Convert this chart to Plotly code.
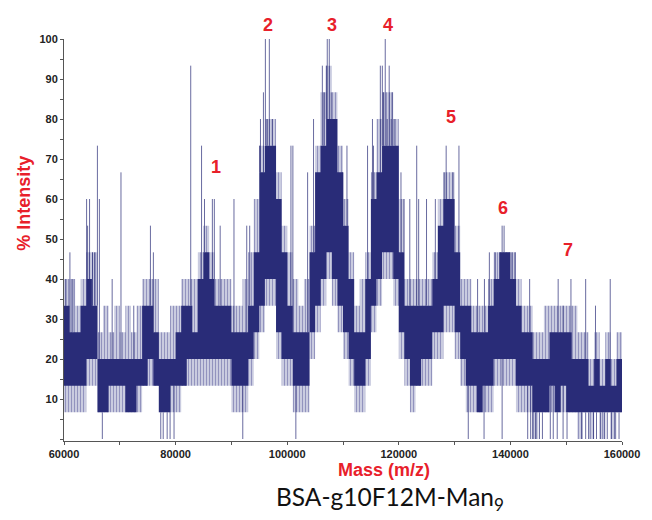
import numpy as np
import plotly.graph_objects as go

# ---------------- data ----------------
# Intensity is quantised: one count = 100/15 % ; values below are in counts.
STEP = 100.0 / 15.0
BIN = 1000  # Da per bin
bin_mass = list(range(60000, 160000, BIN))

# dense core of the trace (lower / upper level, counts)
core_lo = [2,2,2,2,3,3,1,1,2,2, 2,1,1,2,2,3,2,1,1,2,
           2,2,3,3,3,3,3,3,3,3, 2,2,2,3,4,5,6,6,4,3,
           3,2,2,2,4,5,6,7,6,5, 4,3,2,2,3,5,6,7,7,6,
           4,3,2,2,3,3,4,4,5,5, 4,3,2,2,1,2,2,3,3,3,
           3,2,2,2,1,1,1,2,1,2, 1,1,1,1,1,1,1,1,1,1]
core_hi = [5,4,4,5,6,5,3,3,3,3, 3,3,3,3,5,5,4,3,3,3,
           4,5,5,4,6,7,6,5,5,5, 4,4,4,5,7,10,11,11,9,7,
           5,4,4,4,7,10,11,12,12,10, 8,6,4,4,6,9,10,11,11,11,
           7,5,5,5,5,5,6,8,9,9, 7,5,5,4,4,4,5,6,7,7,
           6,5,4,4,3,3,3,4,4,4, 4,3,3,3,2,3,2,3,2,3]
# lighter fringe around the core (counts)
fringe_lo = [1,1,1,1,2,2,1,1,1,1, 1,1,1,1,2,2,2,1,1,1,
             1,2,2,2,2,2,2,2,2,2, 1,1,1,2,3,4,5,5,3,2,
             2,1,1,1,3,4,5,6,5,4, 3,2,1,1,2,4,5,6,6,5,
             3,2,1,2,2,2,3,3,4,4, 3,2,1,1,1,1,1,2,2,2,
             2,1,1,1,0,1,1,1,1,1, 1,1,0,1,0,1,0,1,0,1]
fringe_hi = [6,6,5,6,7,7,4,5,4,5, 4,5,4,5,6,6,6,4,4,5,
             5,6,6,6,7,8,7,6,6,6, 5,5,6,7,9,11,12,12,10,8,
             7,6,5,6,8,11,13,14,13,11, 9,7,5,6,7,10,12,13,13,12,
             9,6,6,6,6,6,7,9,10,10, 8,6,6,5,5,5,6,7,7,7,
             7,6,5,5,4,4,5,5,5,5, 5,5,4,4,3,4,3,4,3,4]

# isolated tall lines: mass (Da), top level (counts)
spike_mass = [60350,61060,61580,64050,64230,64580,65110,65460,65990,66340,
              68630,70210,72500,75490,76020,82710,84650,85180,86590,86940,
              87990,90460,92750,93280,95040,95210,95740,96090,96440,96800,
              97330,97680,98910,100670,101020,103660,104720,105070,106300,106660,
              107010,107180,107540,107890,108590,109470,110000,110710,114400,115280,
              115460,116690,117050,117220,117570,117920,118280,118630,118800,119160,
              120390,120920,121970,123210,123560,124970,126550,128140,128490,129720,
              130780,134120,135350,136230,137290,138520,138870,140280,140810,143450,
              148560,149440,150850,153490,155250,157890]
spike_top = [6,7,6,9,8,9,7,7,11,9,
             6,10,5,8,7,14,11,9,9,9,
             8,9,8,8,11,12,13,15,12,15,
             12,11,9,11,11,10,12,10,14,13,
             14,15,15,13,11,10,10,11,11,12,
             11,14,14,13,15,12,14,12,13,12,
             10,9,9,11,9,9,9,10,11,10,
             11,6,6,7,7,8,8,7,7,6,
             6,5,6,6,5,6]
# lines dropping to zero intensity: mass (Da)
dip_mass = [66870,77340,77780,78490,79010,79720,92040,101550,132450,135280,
            138520,143100,143630,143980,144510,145210,145740,147150,147680,148390,
            149440,150150,152790,153490,154020,154900,155430,156130,156840,157360,
            158070,158770,159470]

# peak numbering (label position in mass / % intensity)
peak_labels = ["1", "2", "3", "4", "5", "6", "7"]
label_mass = [87290, 96620, 108065, 118100, 129370, 138700, 150320]
label_int = [68, 103.5, 103.5, 103.5, 80.5, 57.8, 47.3]

x_ticks = [60000, 80000, 100000, 120000, 140000, 160000]
y_ticks = [10, 20, 30, 40, 50, 60, 70, 80, 90, 100]

# ---------------- figure ----------------
NAVY = "#292c78"
Y_RANGE = [-0.5, 100]
edges = bin_mass + [bin_mass[-1] + BIN]


def stepped(vals):
    v = np.array(vals, dtype=float) * STEP
    return np.append(v, v[-1])


fig = go.Figure()
# fringe band (thin light lines around the dense core)
fig.add_trace(go.Scatter(x=edges, y=stepped(fringe_lo), mode="lines",
                         line=dict(width=0, shape="hv"), hoverinfo="skip",
                         showlegend=False))
fig.add_trace(go.Scatter(x=edges, y=stepped(fringe_hi), mode="lines",
                         line=dict(width=0, shape="hv"), fill="tonexty",
                         fillcolor="rgba(255,255,255,0)",
                         fillpattern=dict(shape="|", size=3, solidity=0.5,
                                          fgcolor="#474a92",
                                          bgcolor="rgba(140,142,190,0.3)"),
                         hoverinfo="skip", showlegend=False))
# dense core
fig.add_trace(go.Scatter(x=edges, y=stepped(core_lo), mode="lines",
                         line=dict(width=0, shape="hv"), hoverinfo="skip",
                         showlegend=False))
fig.add_trace(go.Scatter(x=edges, y=stepped(core_hi), mode="lines",
                         line=dict(width=0, shape="hv"), fill="tonexty",
                         fillcolor=NAVY, hoverinfo="skip", showlegend=False))

# spikes and dips
sx, sy = [], []
for m, t in zip(spike_mass, spike_top):
    i = min(max((m - bin_mass[0]) // BIN, 0), len(bin_mass) - 1)
    sx += [m, m, None]
    sy += [core_hi[i] * STEP, t * STEP, None]
for m in dip_mass:
    i = min(max((m - bin_mass[0]) // BIN, 0), len(bin_mass) - 1)
    sx += [m, m, None]
    sy += [core_lo[i] * STEP, 0, None]
fig.add_trace(go.Scatter(x=sx, y=sy, mode="lines",
                         line=dict(color="rgba(41,44,120,0.7)", width=1),
                         hoverinfo="skip", showlegend=False))

RED = "#e8202a"
span = Y_RANGE[1] - Y_RANGE[0]
for t, m, v in zip(peak_labels, label_mass, label_int):
    fig.add_annotation(x=m, xref="x", yref="paper",
                       y=(v - Y_RANGE[0]) / span, text=t, showarrow=False,
                       xanchor="center", yanchor="middle",
                       font=dict(family="Liberation Sans", size=18, color=RED,
                                 weight="bold"))

fig.add_annotation(xref="paper", yref="paper", x=-0.072, y=0.592,
                   xanchor="center", yanchor="middle",
                   text="% Intensity", textangle=-90, showarrow=False,
                   font=dict(family="Liberation Sans", size=18, color=RED,
                             weight="bold"))
fig.add_annotation(xref="paper", yref="paper", x=0.574, y=-0.071,
                   xanchor="center", yanchor="middle",
                   text="Mass (m/z)", showarrow=False,
                   font=dict(family="Liberation Sans", size=18, color=RED,
                             weight="bold"))
fig.add_annotation(xref="paper", yref="paper", x=0.585, y=-0.142,
                   xanchor="center", yanchor="middle",
                   text="BSA-g10F12M-Man<sub>9</sub>", showarrow=False,
                   font=dict(family="Lato", size=24.5, color="#111111"))

tickfont = dict(family="Liberation Sans", size=11, color="#222222", weight="bold")
fig.update_xaxes(range=[60000, 160000], tickvals=x_ticks,
                 ticktext=[str(v) for v in x_ticks], tickfont=tickfont,
                 showgrid=False, zeroline=False, showline=True,
                 linecolor="#555555", linewidth=1, ticks="outside", ticklen=3,
                 tickcolor="#555555",
                 minor=dict(dtick=10000, ticks="outside", ticklen=3,
                            tickcolor="#555555", showgrid=False))
fig.update_yaxes(range=Y_RANGE, tickvals=y_ticks, tickfont=tickfont,
                 showgrid=False, zeroline=False, showline=True,
                 linecolor="#555555", linewidth=1, ticks="outside", ticklen=3,
                 tickcolor="#555555",
                 minor=dict(dtick=5, tick0=0, ticks="outside", ticklen=3,
                            tickcolor="#555555", showgrid=False))
# the page body has an 8px margin, so the figure is offset by 8px
fig.update_layout(width=644, height=512,
                  margin=dict(l=56, r=20, t=31, b=79),
                  paper_bgcolor="white", plot_bgcolor="white",
                  showlegend=False)

fig.write_html("out.html", config={"displayModeBar": False})
